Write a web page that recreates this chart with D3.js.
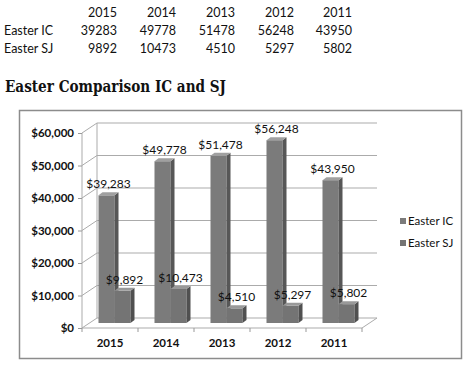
<!DOCTYPE html>
<html>
<head>
<meta charset="utf-8">
<script src="https://cdn.jsdelivr.net/npm/d3@7"></script>
<style>
  body { margin: 0; background: #fff; }
  text { font-family: Lato, "Open Sans", sans-serif; fill: #111; }
</style>
</head>
<body>
<svg id="vis" width="470" height="367"></svg>
<script>
// data
var years = ["2015", "2014", "2013", "2012", "2011"];
var seriesNames = ["Easter IC", "Easter SJ"];
var easterIC = [39283, 49778, 51478, 56248, 43950];
var easterSJ = [9892, 10473, 4510, 5297, 5802];
var yTicks = [0, 10000, 20000, 30000, 40000, 50000, 60000];

var vis = d3.select("#vis");

//--- little table on top
var colRight = [117, 176, 235, 294, 352];
var rows = [years, easterIC, easterSJ];
rows.forEach(function (row, r) {
  var yy = 17 + r * 18;
  if (r > 0) {
    vis.append("text").attr("x", 4).attr("y", yy)
      .style("font-size", "12.5px").text(seriesNames[r - 1]);
  }
  row.forEach(function (v, i) {
    vis.append("text").attr("x", colRight[i]).attr("y", yy)
      .attr("text-anchor", "end").style("font-size", "12.5px").text(v);
  });
});

vis.append("text").attr("x", 5).attr("y", 92)
  .attr("textLength", 221).attr("lengthAdjust", "spacingAndGlyphs")
  .style("font-family", "'DejaVu Serif Condensed', 'DejaVu Serif', serif")
  .style("font-weight", "bold").style("font-size", "16px")
  .text("Easter Comparison IC and SJ");

//--- chart box
vis.append("rect").attr("x", 19.5).attr("y", 110.5).attr("width", 442).attr("height", 248)
  .attr("fill", "#fff").attr("stroke", "#8c8c8c").attr("stroke-width", 1.5);

var DX = 15, DY = -10;   // depth of the 3d box
var xScale = d3.scaleBand().domain(years).range([82, 362]);
var yScale = d3.scaleLinear().domain([0, 60000]).range([328, 133]);

var grid = vis.append("g").attr("fill", "none").attr("stroke", "#ababab").attr("stroke-width", 1);
// walls: left side diagonal + back wall horizontal
yTicks.forEach(function (t) {
  var y = yScale(t);
  grid.append("path").attr("d", "M82," + y + "L" + (82 + DX) + "," + (y + DY) + "L" + (362 + DX) + "," + (y + DY));
});
grid.append("path").attr("d", "M82," + yScale(60000) + "V" + yScale(0));
grid.append("path").attr("d", "M" + (82 + DX) + "," + (yScale(60000) + DY) + "V" + (yScale(0) + DY));
// floor
grid.append("path").attr("d", "M82," + yScale(0) + "H362L" + (362 + DX) + "," + (yScale(0) + DY));

// axis ticks
var yAxis = d3.axisLeft(yScale).tickValues(yTicks).tickSize(4)
  .tickFormat(function (d) { return "$" + d3.format(",")(d); });
var gy = vis.append("g").attr("transform", "translate(82,0)").call(yAxis);
gy.select(".domain").remove();
gy.selectAll("line").attr("stroke", "#999");
gy.selectAll("text").attr("x", -8).style("font-size", "11.5px").style("font-weight", "bold")
  .style("font-family", "Lato, sans-serif").attr("fill", "#111");

var xAxis = d3.axisBottom(xScale).tickSize(0).tickPadding(11);
var gx = vis.append("g").attr("transform", "translate(0," + yScale(0) + ")").call(xAxis);
gx.select(".domain").remove();
gx.selectAll("text").style("font-size", "11.5px").style("font-weight", "bold")
  .style("font-family", "Lato, sans-serif").attr("fill", "#111");
years.concat(["end"]).forEach(function (y, i) {
  var x = 82 + i * xScale.step();
  vis.append("line").attr("x1", x).attr("x2", x).attr("y1", yScale(0)).attr("y2", yScale(0) + 4)
    .attr("stroke", "#999");
});

//--- bars
var bw = 16, bdx = 4, bdy = -3;
var base = yScale(0) + DY / 2;
var shades = [
  { front: "#7b7b7b", side: "#575757", top: "#a0a0a0" },
  { front: "#747474", side: "#505050", top: "#999999" }
];
function bar(x0, v, s) {
  var h = yScale(0) - yScale(v);
  var top = base - h;
  var g = vis.append("g");
  g.append("rect").attr("x", x0).attr("y", top).attr("width", bw).attr("height", h).attr("fill", s.front);
  g.append("path").attr("fill", s.side)
    .attr("d", "M" + (x0 + bw) + "," + top + "l" + bdx + "," + bdy + "v" + h + "l" + (-bdx) + "," + (-bdy) + "Z");
  g.append("path").attr("fill", s.top)
    .attr("d", "M" + x0 + "," + top + "l" + bdx + "," + bdy + "h" + bw + "l" + (-bdx) + "," + (-bdy) + "Z");
  return top;
}
var labels = [];
years.forEach(function (yr, i) {
  var c = xScale(yr) + xScale.bandwidth() / 2 + DX / 2;
  [easterIC[i], easterSJ[i]].forEach(function (v, k) {
    var x0 = c - 19 + k * 16;
    var top = bar(x0, v, shades[k]);
    labels.push({ x: x0 + bw / 2 + 2, y: top - 7, v: v });
  });
});
vis.selectAll(".lbl").data(labels).enter().append("text").attr("class", "lbl")
  .attr("x", function (d) { return d.x; }).attr("y", function (d) { return d.y; })
  .attr("text-anchor", "middle").style("font-size", "12px")
  .text(function (d) { return "$" + d3.format(",")(d.v); });

//--- legend
seriesNames.forEach(function (n, i) {
  var y = 221 + i * 22;
  vis.append("rect").attr("x", 400).attr("y", y - 3).attr("width", 6).attr("height", 6).attr("fill", shades[i].front);
  vis.append("text").attr("x", 408).attr("y", y + 4).style("font-size", "11.5px").text(n);
});
</script>
</body>
</html>
